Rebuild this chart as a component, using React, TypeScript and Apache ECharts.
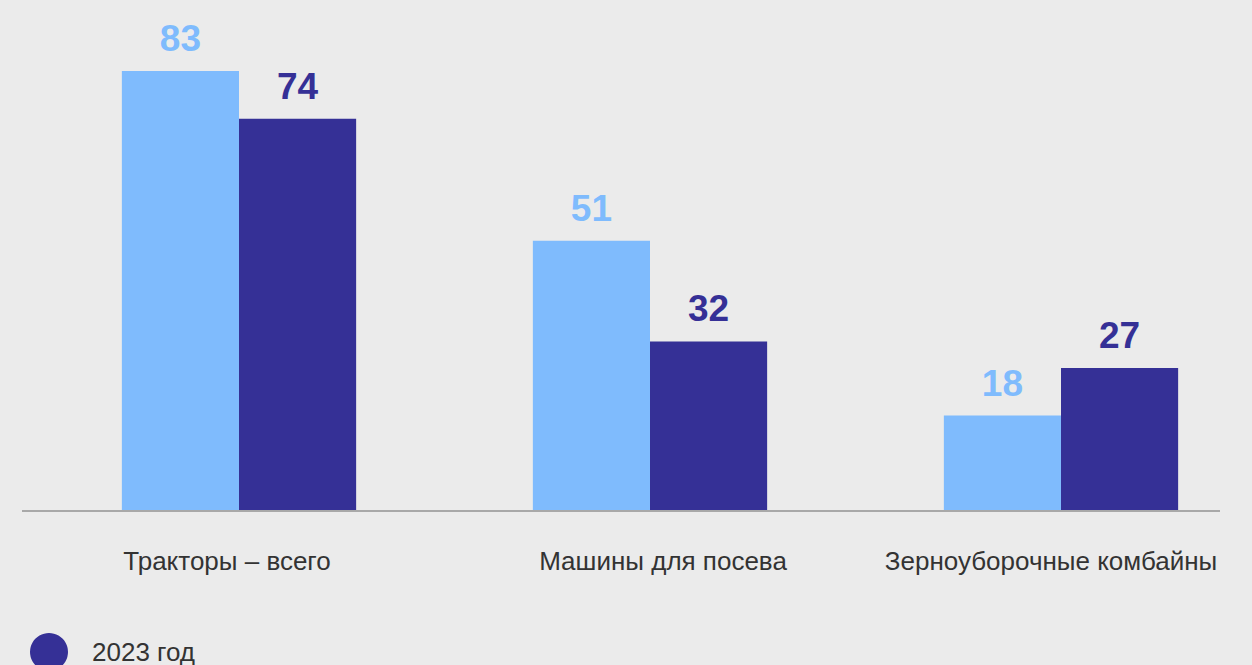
import React, { useEffect, useRef } from "react";
import * as echarts from "echarts";

const categories = ["Тракторы – всего", "Машины для посева", "Зерноуборочные комбайны"];
const values2022 = [83, 51, 18];
const values2023 = [74, 32, 27];
const seriesNames = ["2022 год", "2023 год"];

export default function App() {
  const ref = useRef<HTMLDivElement>(null);
  useEffect(() => {
    const chart = echarts.init(ref.current!, null, { renderer: "svg" });
    const font = "'Liberation Sans', Arial, sans-serif";
    const shifts = [-24, 26, -20];
    chart.setOption({
      animation: false,
      backgroundColor: "#ebebeb",
      grid: { left: 239, right: 191, top: 34, height: 477 },
      legend: {
        data: [seriesNames[1]],
        left: 25,
        top: 628,
        icon: "circle",
        itemWidth: 38,
        itemHeight: 38,
        itemGap: 20,
        textStyle: { fontFamily: font, fontSize: 26, color: "#333", padding: [0, 0, 0, 19] },
      },
      xAxis: {
        type: "category",
        boundaryGap: false,
        data: categories.map((c, i) => ({
          value: c,
          textStyle: {
            padding: shifts[i] > 0 ? [0, 0, 0, shifts[i]] : [0, -shifts[i], 0, 0],
          },
        })),
        axisLine: { show: false },
        axisTick: { show: false },
        axisLabel: {
          interval: 0,
          hideOverlap: false,
          fontFamily: font,
          fontSize: 26,
          color: "#333",
          margin: 37,
        },
      },
      yAxis: { type: "value", min: 0, max: 90, show: false, splitLine: { show: false } },
      graphic: [
        {
          type: "line",
          shape: { x1: 22, y1: 511, x2: 1220, y2: 511 },
          style: { stroke: "#a8a8a8", lineWidth: 2 },
          z: 10,
        },
      ],
      series: [
        {
          name: seriesNames[0],
          type: "bar",
          data: values2022,
          barGap: "0%",
          barCategoryGap: "43%",
          itemStyle: { color: "#7fbbfd" },
          label: {
            show: true,
            position: "top",
            distance: 14,
            fontFamily: font,
            fontSize: 37,
            fontWeight: "bold",
            color: "#7fbbfd",
          },
        },
        {
          name: seriesNames[1],
          type: "bar",
          data: values2023,
          barGap: "0%",
          barCategoryGap: "43%",
          itemStyle: { color: "#353096" },
          label: {
            show: true,
            position: "top",
            distance: 14,
            fontFamily: font,
            fontSize: 37,
            fontWeight: "bold",
            color: "#353096",
          },
        },
      ],
    });
    return () => chart.dispose();
  }, []);
  return (
    <div
      ref={ref}
      style={{ position: "fixed", left: 0, top: 0, width: 1252, height: 665 }}
    />
  );
}
